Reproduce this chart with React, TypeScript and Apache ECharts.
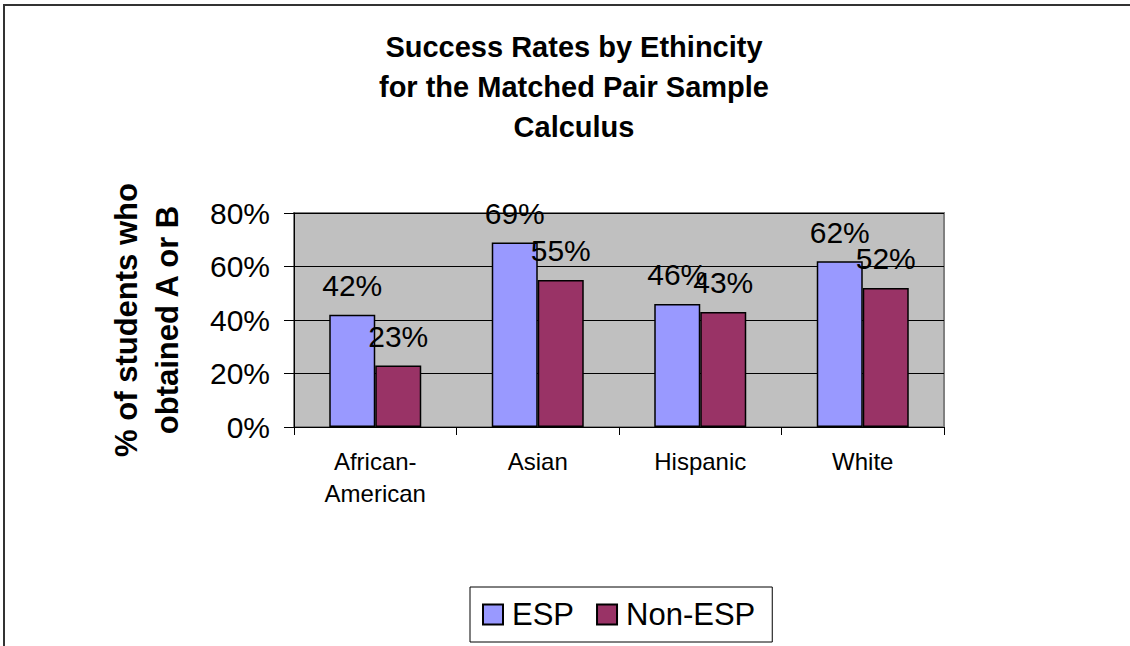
import React, { useEffect, useRef } from "react";
import * as echarts from "echarts";

const categories = ["African-\nAmerican", "Asian", "Hispanic", "White"];
const espValues = [42, 69, 46, 62];
const nonEspValues = [23, 55, 43, 52];
const seriesNames = ["ESP", "Non-ESP"];
const titleLines = [
  "Success Rates by Ethincity",
  "for the Matched Pair Sample",
  "Calculus",
];
const yAxisTitle = "% of students who\nobtained A or B";

const FONT = "'Liberation Sans', Arial, Helvetica, sans-serif";

export default function App() {
  const ref = useRef<HTMLDivElement>(null);

  useEffect(() => {
    if (!ref.current) return;
    const chart = echarts.init(ref.current, undefined, { renderer: "svg" });

    const barLabel = {
      show: true,
      position: "top",
      distance: 14,
      formatter: "{c}%",
      color: "#000",
      fontFamily: FONT,
      fontSize: 30,
    };

    chart.setOption({
      animation: false,
      backgroundColor: "#fff",
      title: {
        text: titleLines.join("\n"),
        left: 569,
        top: 22,
        textAlign: "center",
        textStyle: {
          fontFamily: FONT,
          fontWeight: "bold",
          fontSize: 29,
          lineHeight: 40,
          color: "#000",
        },
      },
      legend: {
        data: seriesNames,
        left: 470,
        top: 587,
        orient: "horizontal",
        padding: [12, 17, 12, 12],
        itemWidth: 20,
        itemHeight: 20,
        itemGap: 22,
        borderColor: "#000",
        borderWidth: 1,
        icon: "rect",
        textStyle: {
          fontFamily: FONT,
          fontSize: 31,
          color: "#000",
          padding: [0, 0, 0, 4],
        },
      },
      grid: {
        left: 294,
        right: 186,
        top: 213,
        bottom: 219,
        show: true,
        backgroundColor: "#c0c0c0",
        borderColor: "#808080",
        borderWidth: 2,
      },
      xAxis: {
        type: "category",
        data: categories,
        axisLine: { show: true, lineStyle: { color: "#000", width: 1 } },
        axisTick: { show: true, length: 8, lineStyle: { color: "#000" } },
        axisLabel: {
          margin: 18,
          fontFamily: FONT,
          fontSize: 24,
          lineHeight: 32,
          color: "#000",
        },
      },
      yAxis: {
        type: "value",
        min: 0,
        max: 80,
        interval: 20,
        name: yAxisTitle,
        nameLocation: "middle",
        nameRotate: 90,
        nameGap: 106,
        nameTextStyle: {
          fontFamily: FONT,
          fontWeight: "bold",
          fontSize: 31,
          lineHeight: 41,
          color: "#000",
          align: "center",
        },
        axisLine: { show: true, lineStyle: { color: "#000", width: 1 } },
        axisTick: { show: true, length: 10, lineStyle: { color: "#000" } },
        axisLabel: {
          formatter: "{value}%",
          margin: 24,
          fontFamily: FONT,
          fontSize: 30,
          color: "#000",
        },
        splitLine: { show: true, lineStyle: { color: "#000", width: 1 } },
      },
      series: [
        {
          name: seriesNames[0],
          type: "bar",
          data: espValues,
          barWidth: 46,
          barGap: "0%",
          itemStyle: { color: "#9999ff", borderColor: "#000", borderWidth: 1.5 },
          label: barLabel,
        },
        {
          name: seriesNames[1],
          type: "bar",
          data: nonEspValues,
          barWidth: 46,
          barGap: "0%",
          itemStyle: { color: "#993366", borderColor: "#000", borderWidth: 1.5 },
          label: barLabel,
        },
      ],
      graphic: [
        {
          type: "rect",
          shape: { x: 4, y: 5, width: 1300, height: 900 },
          style: { fill: "none", stroke: "#333", lineWidth: 2 },
          silent: true,
        },
      ],
    });

    return () => chart.dispose();
  }, []);

  return <div ref={ref} style={{ width: 1130, height: 646 }} />;
}

const _style = document.createElement("style");
_style.textContent = "body{margin:0;}";
document.head.appendChild(_style);
